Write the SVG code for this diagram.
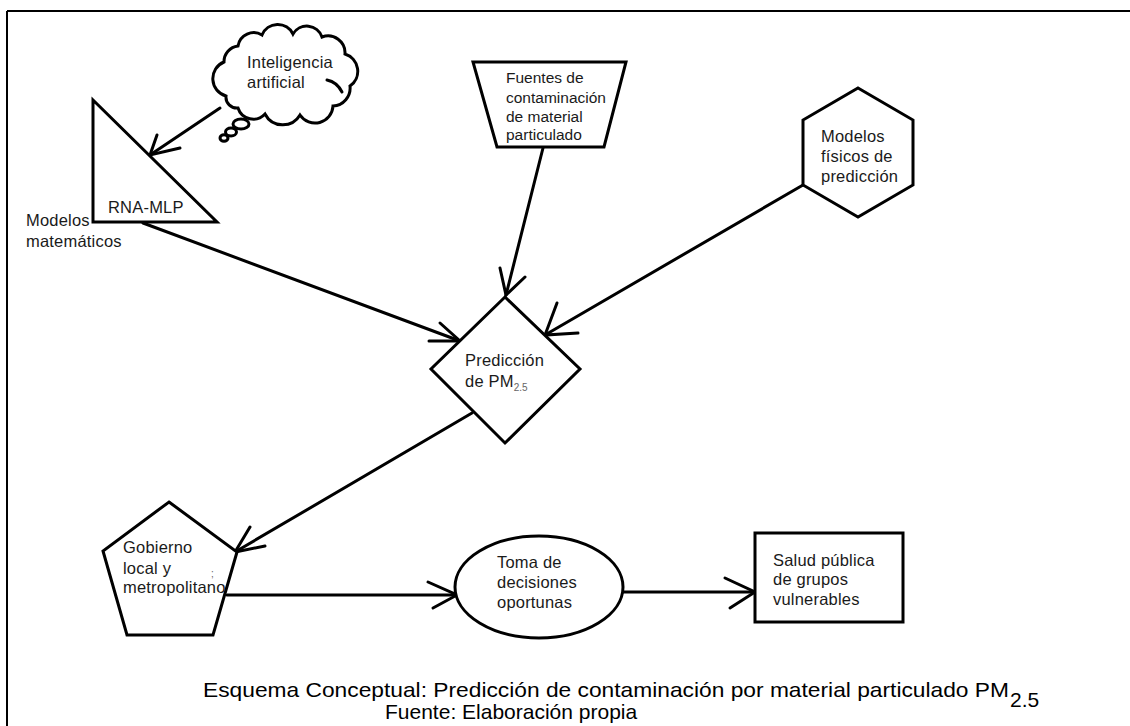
<svg xmlns="http://www.w3.org/2000/svg" width="1130" height="726" viewBox="0 0 1130 726">
  <style>
    .shape { fill: #ffffff; stroke: #000000; stroke-width: 3; stroke-linejoin: miter; }
    .edge { fill: none; stroke: #000000; stroke-width: 3; stroke-linecap: round; }
    .head { fill: none; stroke: #000000; stroke-width: 3; stroke-linecap: round; stroke-linejoin: miter; }
    .lbl { font-family: "Liberation Sans", Arial, sans-serif; font-size: 16.5px; fill: #1a1a1a; letter-spacing: 0.2px; }
    .lbl-tight { letter-spacing: 0px; font-size: 15.5px; }
    .sub { font-family: "Liberation Sans", Arial, sans-serif; font-size: 10px; fill: #666666; letter-spacing: 0px; }
    .cap { font-family: "Liberation Sans", Arial, sans-serif; font-size: 21px; fill: #000000; }
  </style>
  <rect width="1130" height="726" fill="#ffffff"/>

  <!-- frame: top and left edges -->
  <path d="M7 11 H1130 M7 11 V726" fill="none" stroke="#000000" stroke-width="2"/>

  <g id="connectors">
    <!-- cloud -> triangle -->
    <line class="edge" x1="220" y1="108" x2="150" y2="155"/>
    <polyline class="head" points="157,135 150,155 180,148"/>
    <!-- triangle -> diamond -->
    <line class="edge" x1="143" y1="223" x2="460" y2="341"/>
    <polyline class="head" points="440,323 460,341 429,341"/>
    <!-- trapezoid -> diamond -->
    <line class="edge" x1="543" y1="148" x2="506" y2="295"/>
    <polyline class="head" points="500,268 506,295 525,277"/>
    <!-- hexagon -> diamond -->
    <line class="edge" x1="803" y1="185" x2="545" y2="335"/>
    <polyline class="head" points="557,303 545,335 578,333"/>
    <!-- diamond -> pentagon -->
    <line class="edge" x1="472" y1="413" x2="235" y2="552"/>
    <polyline class="head" points="250,527 235,552 265,546"/>
    <!-- pentagon -> ellipse -->
    <line class="edge" x1="227" y1="595" x2="457" y2="595"/>
    <polyline class="head" points="428,582 457,595 433,608"/>
    <!-- ellipse -> rectangle -->
    <line class="edge" x1="623" y1="592" x2="755" y2="592"/>
    <polyline class="head" points="725,578 755,592 730,608"/>
  </g>

  <g id="node-ia">
    <path class="shape" d="M226 96 A18 18 0 0 1 224 62 A16 16 0 0 1 238 46 A16 16 0 0 1 262 35 A17 17 0 0 1 293 34 A16 16 0 0 1 322 37 A17 17 0 0 1 345 54 A18 18 0 0 1 350 86 A18 18 0 0 1 333 106 A18 18 0 0 1 300 115 A20 20 0 0 1 265 114 A16 16 0 0 1 238 108 A11 11 0 0 1 226 96 Z"/>
    <path class="edge" d="M327 80 Q337 82 342 92"/>
    <ellipse class="shape" cx="241" cy="124" rx="8" ry="5"/>
    <ellipse class="shape" cx="231" cy="132" rx="5.5" ry="4"/>
    <ellipse class="shape" cx="224" cy="138" rx="4" ry="3.2"/>
    <text class="lbl" x="247" y="68">Inteligencia</text>
    <text class="lbl" x="247" y="88">artificial</text>
  </g>

  <g id="node-rna">
    <polygon class="shape" points="93,100 93,222 217,222"/>
    <text class="lbl" x="108" y="213">RNA-MLP</text>
    <text class="lbl" x="26" y="226">Modelos</text>
    <text class="lbl" x="26" y="247">matemáticos</text>
  </g>

  <g id="node-fuentes">
    <polygon class="shape" points="473,62 626,62 604,147 497,147"/>
    <text class="lbl lbl-tight" x="506" y="83">Fuentes de</text>
    <text class="lbl lbl-tight" x="506" y="103">contaminación</text>
    <text class="lbl lbl-tight" x="506" y="122">de material</text>
    <text class="lbl lbl-tight" x="506" y="140">particulado</text>
  </g>

  <g id="node-fisicos">
    <polygon class="shape" points="858,88 913,120 913,185 858,217 803,185 803,120"/>
    <text class="lbl" x="821" y="142">Modelos</text>
    <text class="lbl" x="821" y="162">físicos de</text>
    <text class="lbl" x="821" y="182">predicción</text>
  </g>

  <g id="node-prediccion">
    <polygon class="shape" points="505,297 580,369 505,443 431,369"/>
    <text class="lbl" x="465" y="366">Predicción</text>
    <text class="lbl" x="465" y="387">de PM<tspan class="sub" dy="4">2.5</tspan></text>
  </g>

  <g id="node-gobierno">
    <polygon class="shape" points="169,502 237,552 213,635 127,635 103,551"/>
    <text class="lbl" x="123" y="553">Gobierno</text>
    <text class="lbl" x="123" y="574">local y</text>
    <text class="lbl" x="123" y="593">metropolitano</text>
    <text class="sub" x="211" y="577">;</text>
  </g>

  <g id="node-decisiones">
    <ellipse class="shape" cx="539" cy="587" rx="84" ry="51"/>
    <text class="lbl" x="497" y="568">Toma de</text>
    <text class="lbl" x="497" y="588">decisiones</text>
    <text class="lbl" x="497" y="608">oportunas</text>
  </g>

  <g id="node-salud">
    <rect class="shape" x="755" y="533" width="148" height="89"/>
    <text class="lbl" x="773" y="566">Salud pública</text>
    <text class="lbl" x="773" y="585">de grupos</text>
    <text class="lbl" x="773" y="605">vulnerables</text>
  </g>

  <g id="caption">
    <text class="cap" x="203" y="697" font-size="22" textLength="806" lengthAdjust="spacingAndGlyphs">Esquema Conceptual: Predicción de contaminación por material particulado PM</text>
    <text class="cap" x="1010" y="707" font-size="21">2.5</text>
    <text class="cap" x="385" y="719">Fuente: Elaboración propia</text>
  </g>
</svg>
